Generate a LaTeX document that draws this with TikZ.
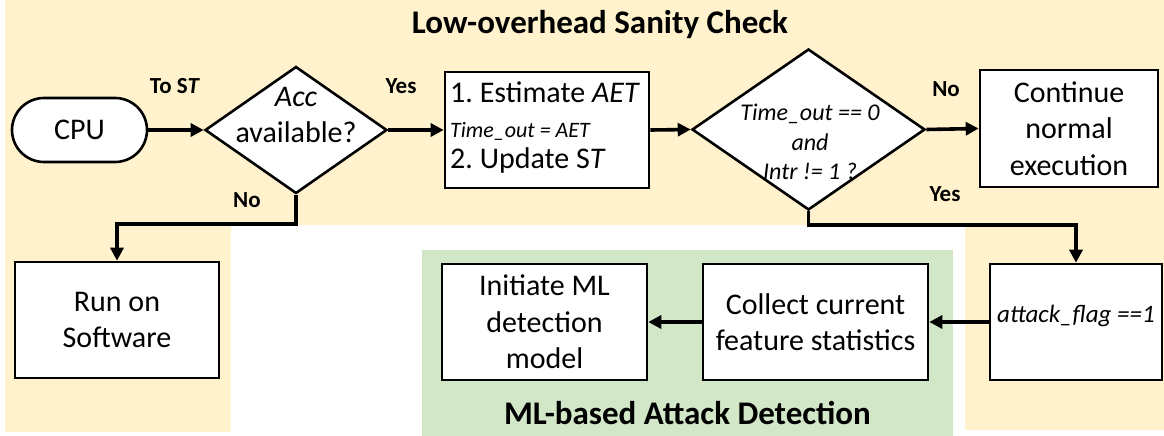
\documentclass[tikz,border=0pt]{standalone}
\usepackage{fontspec}
\setmainfont{Carlito}
\usetikzlibrary{shapes.geometric,arrows.meta}
\definecolor{sanitytan}{HTML}{FFF2CC}
\definecolor{mlgreen}{HTML}{D2E6C8}
\frenchspacing
\tikzset{
  body/.style={font=\fontsize{30}{36.6}\selectfont, align=center},
  procbox/.style={draw, line width=2.6pt, fill=white, rectangle, inner sep=0pt, body},
  decision/.style={draw, line width=2.6pt, fill=white, diamond, inner sep=0pt},
  flow/.style={line width=3.6pt, -{Triangle[length=13pt,width=13pt]}},
  edgelabel/.style={font=\fontsize{23}{27}\selectfont\bfseries},
  regiontitle/.style={font=\fontsize{33}{40}\selectfont\bfseries},
}
\begin{document}
\begin{tikzpicture}[x=1pt,y=-1pt]
\useasboundingbox (0,0) rectangle (1164,436);

% shaded regions
\fill[sanitytan] (5,0) -- (1164,0) -- (1164,430) -- (965,430) -- (965,225)
  -- (231,225) -- (231,432) -- (5,432) -- cycle;
\fill[mlgreen] (422,250) rectangle (953,436);

\node[regiontitle] (ttop) at (600,25) {Low-overhead Sanity Check};
\node[regiontitle] (tml) at (687.5,413) {ML-based Attack Detection};

% nodes of the flow
\node[procbox, rounded corners=32pt, minimum width=135pt, minimum height=64pt] (cpu) at (79.5,130) {CPU};
\node[decision, minimum width=182pt, minimum height=127pt] (acc) at (296,130) {};
\node[body] (acctxt) at (296,115) {\textit{Acc}\\available?};
\node[procbox, minimum width=204pt, minimum height=116pt] (est) at (547,130) {};
\node[anchor=base west, inner sep=0pt, font=\fontsize{30}{36}\selectfont] (est1) at (450,102) {1. Estimate \textit{AET}};
\node[anchor=base west, inner sep=0pt, font=\fontsize{22}{26}\selectfont\itshape] (est2) at (450,137) {Time\_out = AET};
\node[anchor=base west, inner sep=0pt, font=\fontsize{30}{36}\selectfont] (est3) at (450,168) {2. Update S\textit{T}};
\node[decision, minimum width=233pt, minimum height=161pt] (chk) at (808.5,129.5) {};
\node[align=center, font=\fontsize{24}{29.5}\selectfont\itshape] (chktxt) at (810,142) {Time\_out == 0\\and\\Intr != 1 ?};
\node[procbox, minimum width=178pt, minimum height=117pt] (cont) at (1069,128.5) {Continue\\normal\\execution};
\node[procbox, minimum width=204pt, minimum height=116pt] (sw) at (117,320) {Run on\\Software};
\node[procbox, minimum width=205pt, minimum height=116pt] (init) at (544.5,322) {Initiate ML\\detection\\model};
\node[procbox, minimum width=225pt, minimum height=116pt] (coll) at (815.5,322) {Collect current\\feature statistics};
\node[procbox, minimum width=172pt, minimum height=116pt] (atk) at (1076,322) {};
\node[font=\fontsize{25}{30}\selectfont\itshape] (atktxt) at (1076,316) {attack\_flag ==1};

% connectors
\coordinate (accdrop) at (296,224);
\coordinate (chkdrop) at (808.5,225);
\draw[flow] (cpu.east) -- (acc.west);
\draw[flow] (acc.east) -- (est.west);
\draw[flow] (est.east) -- (chk.west);
\draw[flow] (chk.east) -- (cont.west);
\draw[flow] (acc.south) -- (accdrop) -| (sw.north);
\draw[flow] (chk.south) -- (chkdrop) -| (atk.north);
\draw[flow] (atk.west) -- (coll.east);
\draw[flow] (coll.west) -- (init.east);

% branch labels
\node[edgelabel] (lto) at (175,86) {To S\textit{T}};
\node[edgelabel] (lyes1) at (401,86) {Yes};
\node[edgelabel] (lno1) at (247,200) {No};
\node[edgelabel] (lno2) at (946,89) {No};
\node[edgelabel] (lyes2) at (945,194) {Yes};
\end{tikzpicture}
\end{document}
